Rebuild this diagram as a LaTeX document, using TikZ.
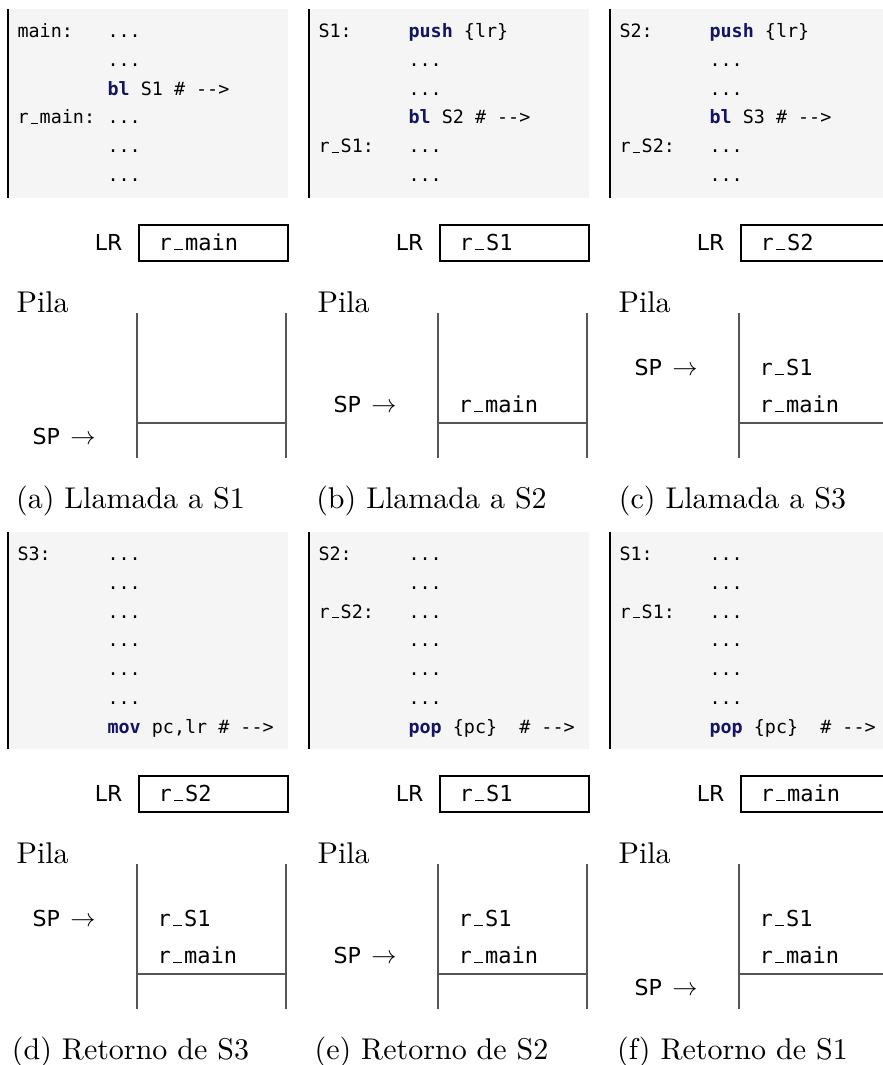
\documentclass[tikz,border=0pt]{standalone}
\usepackage{fontspec}
\setmonofont{DejaVu Sans Mono}
\newfontfamily\dvsans{DejaVu Sans}
\definecolor{codebg}{RGB}{245,245,245}
\definecolor{kwcol}{RGB}{20,20,100}
\definecolor{stackcol}{RGB}{85,85,85}
\newcommand\us{\kern0.1em\rule{0.42em}{0.06em}\kern0.082em}
\newcommand\kw[1]{\textcolor{kwcol}{\bfseries #1}}
\newcommand\cdfnt{\ttfamily\fontsize{6.13}{7.5}\selectfont}
\newcommand\rgfnt{\ttfamily\fontsize{7.33}{9}\selectfont}
\newcommand\sffnt{\dvsans\fontsize{7.33}{9}\selectfont}
\newcommand\cpfnt{\fontsize{10}{12}\selectfont}
\newcommand\arr{\scalebox{0.84}{\fontsize{10}{12}\selectfont$\rightarrow$}}
\tikzset{
  codetxt/.style={font=\cdfnt, inner sep=0pt, anchor=base west},
  regtxt/.style={font=\rgfnt, inner sep=0pt, anchor=base west},
  lrtxt/.style={font=\sffnt, inner sep=0pt, anchor=base east},
  sptxt/.style={font=\sffnt, inner sep=0pt, anchor=base west},
  pilatxt/.style={font=\cpfnt, inner sep=0pt, anchor=base west},
  captxt/.style={font=\cpfnt, inner sep=0pt, anchor=base},
  codebox/.style={fill=codebg, draw=none},
  codebar/.style={line width=0.45pt, draw=black},
  regbox/.style={draw=black, line width=0.36pt},
  stackline/.style={draw=stackcol, line width=0.4pt},
}
% #1 prefix, #2 listing top, #3 LR content, #4 caption
\newcommand\pframe[4]{%
  \fill[codebox] (0,#2) rectangle (280,198);
  \draw[codebar] (0,#2) -- (0,198);
  \draw[regbox] (131,225) rectangle (280,261);
  \draw[regbox] (131,225) -- (131,261);
  \node[lrtxt] (#1lr) at (115,250) {LR};
  \node[regtxt] (#1reg) at (150,250) {#3};
  \node[pilatxt] (#1pila) at (8,312) {Pila};
  \draw[stackline] (129,313) -- (129,458) (278,313) -- (278,458) (129,423) -- (278,423);
  \node[captxt] (#1cap) at (122.5,508) {#4};
}
\begin{document}
\begin{tikzpicture}[x=0.33333pt,y=-0.33333pt]
\useasboundingbox (0,0) rectangle (883,1065);
\clip (0,0) rectangle (883,1065);

% ---------- (a)
\begin{scope}[shift={(8,0)}]
  \pframe{a}{9}{r\us main}{(a) Llamada a S1}
  \node[codetxt] (al0) at (9,37.5) {main:};
  \node[codetxt] (ac0) at (99,37.5) {...};
  \node[codetxt] (ac1) at (99,66.3) {...};
  \node[codetxt] (ac2) at (99,95.1) {\kw{bl} S1 \# -->};
  \node[codetxt] (al3) at (9,123.9) {r\us main:};
  \node[codetxt] (ac3) at (99,123.9) {...};
  \node[codetxt] (ac4) at (99,152.7) {...};
  \node[codetxt] (ac5) at (99,181.5) {...};
  \node[sptxt] (asp) at (24,444) {SP\kern3.5pt\arr};
\end{scope}

% ---------- (b)
\begin{scope}[shift={(309,0)}]
  \pframe{b}{9}{r\us S1}{(b) Llamada a S2}
  \node[codetxt] (bl0) at (9,37.5) {S1:};
  \node[codetxt] (bc0) at (99,37.5) {\kw{push} \{lr\}};
  \node[codetxt] (bc1) at (99,66.3) {...};
  \node[codetxt] (bc2) at (99,95.1) {...};
  \node[codetxt] (bc3) at (99,123.9) {\kw{bl} S2 \# -->};
  \node[codetxt] (bl4) at (9,152.7) {r\us S1:};
  \node[codetxt] (bc4) at (99,152.7) {...};
  \node[codetxt] (bc5) at (99,181.5) {...};
  \node[regtxt] (bst1) at (149,412) {r\us main};
  \node[sptxt] (bsp) at (24,412) {SP\kern3.5pt\arr};
\end{scope}

% ---------- (c)
\begin{scope}[shift={(610,0)}]
  \pframe{c}{9}{r\us S2}{(c) Llamada a S3}
  \node[codetxt] (cl0) at (9,37.5) {S2:};
  \node[codetxt] (cc0) at (99,37.5) {\kw{push} \{lr\}};
  \node[codetxt] (cc1) at (99,66.3) {...};
  \node[codetxt] (cc2) at (99,95.1) {...};
  \node[codetxt] (cc3) at (99,123.9) {\kw{bl} S3 \# -->};
  \node[codetxt] (cl4) at (9,152.7) {r\us S2:};
  \node[codetxt] (cc4) at (99,152.7) {...};
  \node[codetxt] (cc5) at (99,181.5) {...};
  \node[regtxt] (cst2) at (149,375) {r\us S1};
  \node[regtxt] (cst1) at (149,412) {r\us main};
  \node[sptxt] (csp) at (24,375) {SP\kern3.5pt\arr};
\end{scope}

% ---------- (d)
\begin{scope}[shift={(8,551)}]
  \pframe{d}{-19}{r\us S2}{(d) Retorno de S3}
  \node[codetxt] (dl0) at (9,9.5) {S3:};
  \node[codetxt] (dc0) at (99,9.5) {...};
  \node[codetxt] (dc1) at (99,38.3) {...};
  \node[codetxt] (dc2) at (99,67.1) {...};
  \node[codetxt] (dc3) at (99,95.9) {...};
  \node[codetxt] (dc4) at (99,124.7) {...};
  \node[codetxt] (dc5) at (99,153.5) {...};
  \node[codetxt] (dc6) at (99,182.3) {\kw{mov} pc,lr \# -->};
  \node[regtxt] (dst2) at (149,375) {r\us S1};
  \node[regtxt] (dst1) at (149,412) {r\us main};
  \node[sptxt] (dsp) at (24,375) {SP\kern3.5pt\arr};
\end{scope}

% ---------- (e)
\begin{scope}[shift={(309,551)}]
  \pframe{e}{-19}{r\us S1}{(e) Retorno de S2}
  \node[codetxt] (el0) at (9,9.5) {S2:};
  \node[codetxt] (ec0) at (99,9.5) {...};
  \node[codetxt] (ec1) at (99,38.3) {...};
  \node[codetxt] (el2) at (9,67.1) {r\us S2:};
  \node[codetxt] (ec2) at (99,67.1) {...};
  \node[codetxt] (ec3) at (99,95.9) {...};
  \node[codetxt] (ec4) at (99,124.7) {...};
  \node[codetxt] (ec5) at (99,153.5) {...};
  \node[codetxt] (ec6) at (99,182.3) {\kw{pop} \{pc\}\ \ \# -->};
  \node[regtxt] (est2) at (149,375) {r\us S1};
  \node[regtxt] (est1) at (149,412) {r\us main};
  \node[sptxt] (esp) at (24,412) {SP\kern3.5pt\arr};
\end{scope}

% ---------- (f)
\begin{scope}[shift={(610,551)}]
  \pframe{f}{-19}{r\us main}{(f) Retorno de S1}
  \node[codetxt] (fl0) at (9,9.5) {S1:};
  \node[codetxt] (fc0) at (99,9.5) {...};
  \node[codetxt] (fc1) at (99,38.3) {...};
  \node[codetxt] (fl2) at (9,67.1) {r\us S1:};
  \node[codetxt] (fc2) at (99,67.1) {...};
  \node[codetxt] (fc3) at (99,95.9) {...};
  \node[codetxt] (fc4) at (99,124.7) {...};
  \node[codetxt] (fc5) at (99,153.5) {...};
  \node[codetxt] (fc6) at (99,182.3) {\kw{pop} \{pc\}\ \ \# -->};
  \node[regtxt] (fst2) at (149,375) {r\us S1};
  \node[regtxt] (fst1) at (149,412) {r\us main};
  \node[sptxt] (fsp) at (24,444) {SP\kern3.5pt\arr};
\end{scope}
\end{tikzpicture}
\end{document}
